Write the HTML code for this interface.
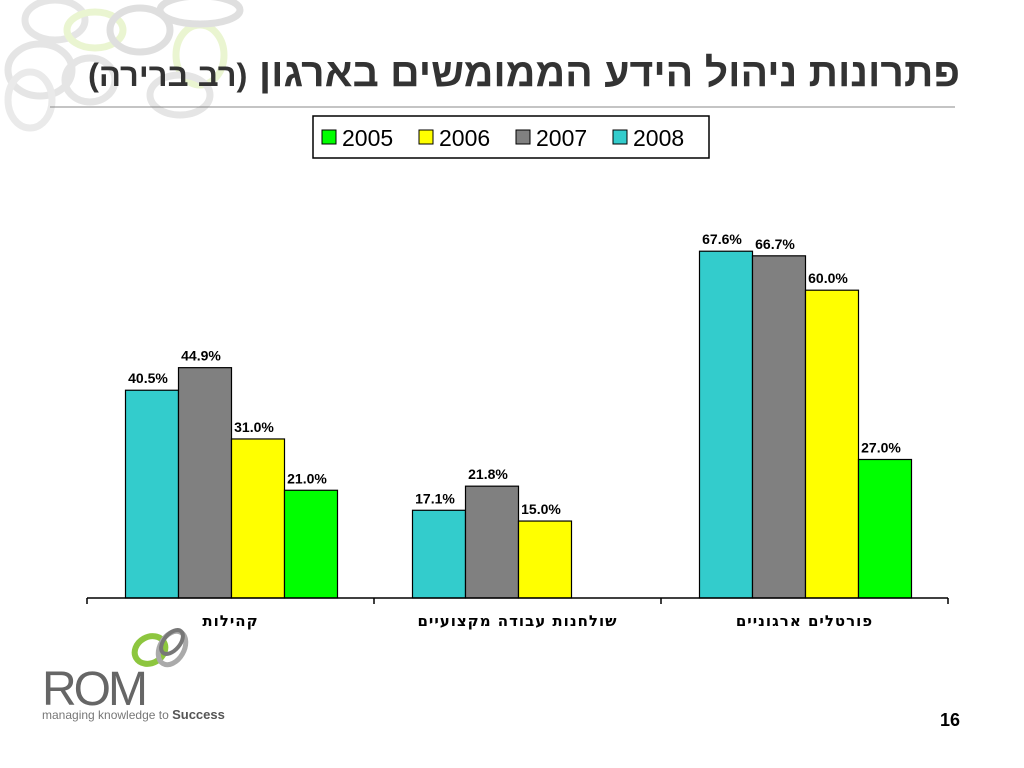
<!DOCTYPE html>
<html><head><meta charset="utf-8"><style>
body{margin:0;width:1024px;height:768px;background:#fff;overflow:hidden;font-family:"Liberation Sans",sans-serif;position:relative}
</style></head><body>
<svg width="1024" height="768" style="position:absolute;left:0;top:0">
<g fill="none" stroke-width="7" opacity="0.3">
<ellipse cx="55" cy="20" rx="30" ry="20" stroke="#aaa"/>
<ellipse cx="95" cy="30" rx="28" ry="18" stroke="#bde06a"/>
<ellipse cx="140" cy="30" rx="30" ry="22" stroke="#999"/>
<ellipse cx="40" cy="70" rx="32" ry="26" stroke="#aaa"/>
<ellipse cx="200" cy="55" rx="24" ry="30" stroke="#bde06a"/>
<ellipse cx="200" cy="10" rx="40" ry="14" stroke="#999"/>
<ellipse cx="90" cy="80" rx="25" ry="22" stroke="#aaa"/>
<ellipse cx="30" cy="100" rx="22" ry="28" stroke="#bbb"/>
<ellipse cx="180" cy="95" rx="30" ry="20" stroke="#aaa"/>
</g>
<text x="960" y="86" direction="rtl" text-anchor="start" font-family="Liberation Sans, DejaVu Sans, sans-serif" font-size="40" font-weight="bold" fill="#333" textLength="872" lengthAdjust="spacingAndGlyphs">פתרונות ניהול הידע הממומשים בארגון <tspan font-size="32">(רב ברירה)</tspan></text>
<line x1="50" y1="107" x2="955" y2="107" stroke="#888" stroke-width="1"/>
<g>
<rect x="313" y="116" width="396" height="42" fill="#fff" stroke="#000" stroke-width="1.5"/>
</g>
<g id="chart"></g>
<g>
<ellipse cx="150" cy="650" rx="16" ry="13" fill="none" stroke="#8dc63f" stroke-width="6" transform="rotate(-30 150 650)"/>
<ellipse cx="172" cy="648" rx="12" ry="18" fill="none" stroke="#aaa" stroke-width="5" transform="rotate(30 172 648)"/>
<ellipse cx="172" cy="642" rx="8" ry="14" fill="none" stroke="#777" stroke-width="4" transform="rotate(40 172 642)"/>
<text x="42" y="705" font-size="48" fill="#666" letter-spacing="-3">ROM</text>
<text x="42" y="719" font-size="12" fill="#777">managing knowledge to <tspan font-weight="bold" fill="#555" font-size="13">Success</tspan></text>
</g>
<text x="960" y="726" text-anchor="end" font-size="18" font-weight="bold" fill="#000">16</text>
</svg>
<script>
const categories=["קהילות","שולחנות עבודה מקצועיים","פורטלים ארגוניים"];
const years=["2008","2007","2006","2005"];
const v2008=[40.5,17.1,67.6];
const v2007=[44.9,21.8,66.7];
const v2006=[31.0,15.0,60.0];
const v2005=[21.0,null,27.0];
const legendYears=["2005","2006","2007","2008"];
const colors={"2005":"#00ff00","2006":"#ffff00","2007":"#808080","2008":"#33cccc"};
const series=[v2008,v2007,v2006,v2005];
const NS="http://www.w3.org/2000/svg";
const g=document.getElementById('chart');
const x0=87,x1=948,base=598,pxPer=5.13,bw=53;
const gw=(x1-x0)/categories.length;
const y=v=>base-v*pxPer;
function mk(t,a){const e=document.createElementNS(NS,t);for(const k in a)e.setAttribute(k,a[k]);g.appendChild(e);return e;}
categories.forEach((c,i)=>{
  const start=x0+i*gw+(gw-bw*4)/2+1;
  series.forEach((s,j)=>{
    const v=s[i]; if(v==null) return;
    const r=mk('rect',{x:start+j*bw,y:y(v),width:bw,height:base-y(v),fill:colors[years[j]],stroke:'#000','stroke-width':1.2});
    
    
    const t=mk('text',{x:start+j*bw+bw/2-4,y:y(v)-7,'text-anchor':'middle','font-size':14,'font-weight':'bold','font-family':'Liberation Sans, sans-serif'});
    t.textContent=v.toFixed(1)+'%';
    
    
  });
  const l=mk('text',{x:x0+i*gw+gw/2,y:626,'text-anchor':'middle','font-size':15,'font-weight':'bold',direction:'rtl','letter-spacing':'1','font-family':'DejaVu Sans, sans-serif'});
  l.textContent=c;
  
  
});
const ax=mk('line',{x1:x0,y1:base,x2:x1,y2:base,stroke:'#000','stroke-width':1.5});


for(let i=0;i<=categories.length;i++){
  const tk=mk('line',{x1:x0+i*gw,y1:base,x2:x0+i*gw,y2:base+6,stroke:'#000','stroke-width':1.5});
  
  
}
legendYears.forEach((yr,i)=>{
  const lx=322+i*97;
  const r=mk('rect',{x:lx,y:130,width:14,height:14,fill:colors[yr],stroke:'#000'});
  
  
  const t=mk('text',{x:lx+20,y:146,'font-size':23,'font-family':'Liberation Sans, sans-serif'});
  t.textContent=yr;
  
  
});
</script>
</body></html>
